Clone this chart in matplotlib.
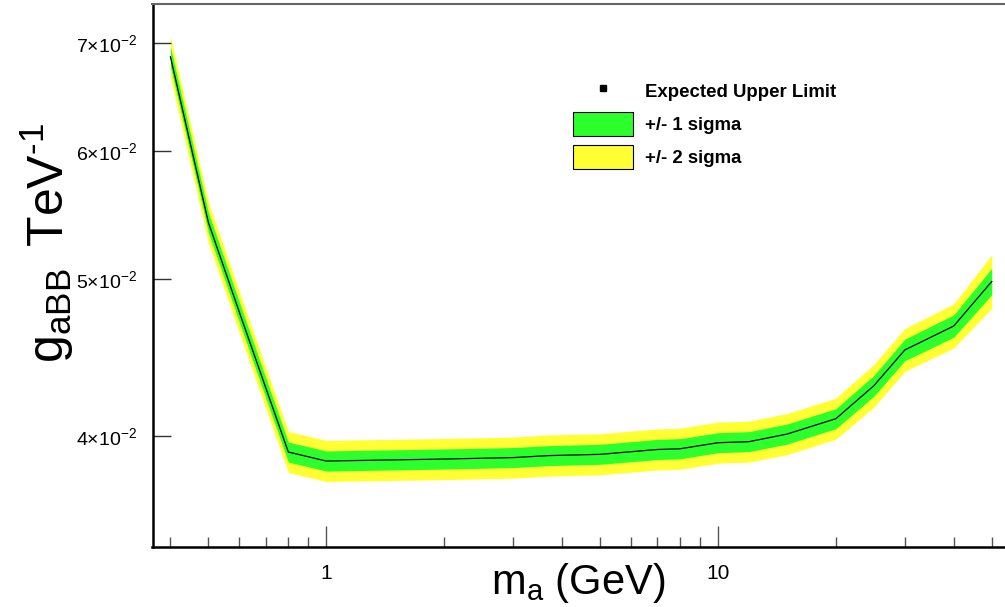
import matplotlib
matplotlib.use("Agg")
import matplotlib.pyplot as plt
from matplotlib.ticker import FixedLocator, NullLocator, FixedFormatter, NullFormatter
from matplotlib.lines import Line2D
from matplotlib.patches import Patch

# ---- data ----
mass = [0.4, 0.5, 0.6, 0.7, 0.8, 1, 2, 3, 3.7, 5, 7, 8, 10, 12, 15, 20, 25, 30, 40, 50]
expected = [0.06867, 0.05423, 0.04771, 0.04287, 0.03910, 0.03860, 0.03871, 0.03879, 0.03890,
            0.03897, 0.03924, 0.03928, 0.03962, 0.03968, 0.04011, 0.04100, 0.04297, 0.04522,
            0.04679, 0.04985]
up1 = [0.06966, 0.05501, 0.04840, 0.04349, 0.03966, 0.03916, 0.03927, 0.03935, 0.03946,
       0.03953, 0.03981, 0.03985, 0.04019, 0.04025, 0.04069, 0.04159, 0.04361, 0.04592,
       0.04754, 0.05080]
lo1 = [0.06770, 0.05346, 0.04703, 0.04226, 0.03854, 0.03805, 0.03816, 0.03824, 0.03835,
       0.03842, 0.03868, 0.03872, 0.03906, 0.03912, 0.03954, 0.04042, 0.04233, 0.04453,
       0.04605, 0.04892]
up2 = [0.07071, 0.05584, 0.04913, 0.04414, 0.04026, 0.03975, 0.03986, 0.03994, 0.04006,
       0.04013, 0.04041, 0.04045, 0.04080, 0.04086, 0.04130, 0.04222, 0.04430, 0.04662,
       0.04829, 0.05179]
lo2 = [0.06669, 0.05267, 0.04633, 0.04163, 0.03797, 0.03749, 0.03759, 0.03767, 0.03778,
       0.03785, 0.03811, 0.03815, 0.03848, 0.03854, 0.03895, 0.03982, 0.04168, 0.04386,
       0.04534, 0.04798]

yticks = [0.04, 0.05, 0.06, 0.07]
ytick_labels = [r'$4{\times}10^{-2}$', r'$5{\times}10^{-2}$', r'$6{\times}10^{-2}$', r'$7{\times}10^{-2}$']
xticks_major = [1, 10]
xtick_labels = ['1', '10']
xticks_minor = [0.4, 0.5, 0.6, 0.7, 0.8, 0.9, 2, 3, 4, 5, 6, 7, 8, 9, 20, 30, 40, 50]

legend_labels = ['Expected Upper Limit', '+/- 1 sigma', '+/- 2 sigma']

# ---- style ----
plt.rcParams['font.family'] = ['Liberation Sans', 'DejaVu Sans']
plt.rcParams['mathtext.fontset'] = 'custom'
plt.rcParams['mathtext.rm'] = 'Liberation Sans'
plt.rcParams['mathtext.it'] = 'Liberation Sans:italic'
plt.rcParams['mathtext.bf'] = 'Liberation Sans:bold'
plt.rcParams['mathtext.default'] = 'regular'

W, H = 1005, 607
fig = plt.figure(figsize=(W / 100, H / 100), dpi=100)
ax = fig.add_axes([152.5 / W, (H - 547) / H, (1004.5 - 152.5) / W, (547 - 4) / H])

GREEN = '#2dff2d'
YELLOW = '#ffff33'

ax.fill_between(mass, lo2, up2, color=YELLOW, linewidth=0, zorder=1)
ax.fill_between(mass, lo1, up1, color=GREEN, linewidth=0, zorder=2)
ax.plot(mass, expected, color='black', linewidth=0.9, zorder=3)

ax.set_xscale('log')
ax.set_yscale('log')
ax.set_xlim(0.36, 53.9)
ax.set_ylim(0.03415, 0.07403)

ax.xaxis.set_major_locator(FixedLocator(xticks_major))
ax.xaxis.set_major_formatter(FixedFormatter(xtick_labels))
ax.xaxis.set_minor_locator(FixedLocator(xticks_minor))
ax.xaxis.set_minor_formatter(NullFormatter())
ax.yaxis.set_major_locator(FixedLocator(yticks))
ax.yaxis.set_major_formatter(FixedFormatter(ytick_labels))
ax.yaxis.set_minor_locator(NullLocator())

ax.tick_params(axis='x', which='major', direction='in', length=15, width=1, color='#555555',
               labelsize=15, pad=12)
ax.tick_params(axis='x', which='minor', direction='in', length=7, width=1, color='#555555')
ax.tick_params(axis='y', which='major', direction='in', length=13, width=1, color='#333333',
               labelsize=14, pad=11)

for side in ['left', 'bottom']:
    ax.spines[side].set_linewidth(1.8)
    ax.spines[side].set_color('black')
ax.spines['top'].set_linewidth(1.5)
ax.spines['top'].set_color('#666666')
ax.spines['right'].set_visible(False)

ax.set_xlabel(r'm$_a$ (GeV)', fontsize=30)
ax.set_ylabel(r'g$_{aBB}$ $\,$TeV$^{\text{-1}}$', fontsize=36)
ax.yaxis.set_label_coords(-0.09, 0.56)
ax.xaxis.set_label_coords(0.5, -0.025)
ax.xaxis.label.set_verticalalignment('top')

handles = [
    Line2D([], [], color='black', marker='s', markersize=4, linestyle='none'),
    Patch(facecolor=GREEN, edgecolor='black', linewidth=0.8),
    Patch(facecolor=YELLOW, edgecolor='black', linewidth=0.8),
]
leg = fig.legend(handles, legend_labels, loc='upper left',
                 bbox_to_anchor=(572.7 / W, 1 - 79 / H), bbox_transform=fig.transFigure,
                 frameon=False, borderpad=0, borderaxespad=0,
                 prop={'family': 'Liberation Sans', 'weight': 'bold', 'size': 13.4},
                 handlelength=3.25, handleheight=1.64, handletextpad=0.62, labelspacing=0.45)

fig.savefig('out.png', dpi=100)
